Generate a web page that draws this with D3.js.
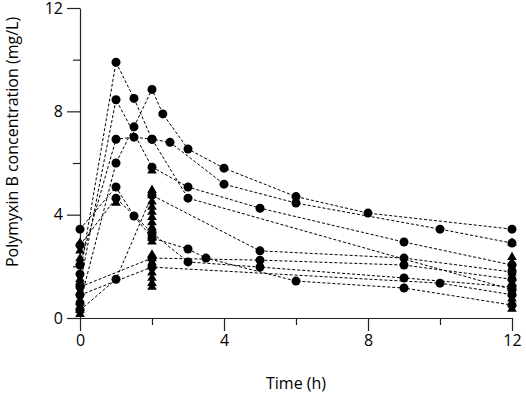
<!DOCTYPE html>
<html>
<head>
<meta charset="utf-8">
<script src="https://cdn.jsdelivr.net/npm/d3@7"></script>
<style>
  body { margin: 0; background: #fff; }
  text { font-family: "Open Sans", sans-serif; }
</style>
</head>
<body>
<div id="chart"></div>
<script>
// patients with full profiles (dashed lines + circles), [time h, conc mg/L]
const subject1 = [[0, 1.7], [1, 9.9], [1.5, 8.5], [2, 6.92], [3, 4.64], [12, 1.1]]
const subject2 = [[0, 0.58], [1, 6.0], [1.5, 7.4], [2, 8.85], [2.3, 7.9], [3, 6.54], [4, 5.8], [6, 4.7], [8, 4.06], [12, 3.44]]
const subject3 = [[0, 1.28], [1, 8.45], [2, 5.84], [3, 5.07], [5, 4.25], [9, 2.94], [12, 2.05]]
const subject4 = [[0, 2.05], [1, 6.92], [1.5, 7.0], [2, 6.92], [2.5, 6.8], [4, 5.18], [6, 4.45], [10, 3.44], [12, 2.9]]
const subject5 = [[0, 3.44], [1, 5.07], [1.5, 3.95], [2, 3.1], [3, 2.67], [3.5, 2.32], [6, 1.43], [9, 1.16], [12, 0.5]]
const subject6 = [[0, 2.82], [1, 4.64], [2, 3.3], [3, 2.17], [5, 1.97], [9, 1.55], [12, 1.2]]
const subject7 = [[0, 0.3], [1, 1.5], [2, 4.75], [5, 2.6], [9, 2.32], [12, 1.78]]
const subject8 = [[0, 1.2], [2, 2.32], [5, 2.24], [9, 2.05], [12, 1.5]]
const subject9 = [[0, 0.89], [2, 1.97], [10, 1.35], [12, 0.9]]
const subjects = [subject1, subject2, subject3, subject4, subject5, subject6, subject7, subject8, subject9]

// sparse samples (triangles, no lines)
const sparseTimes = [0, 0, 0, 0, 0, 0, 0, 0, 0, 0,
  1,
  2, 2, 2, 2, 2, 2, 2, 2, 2, 2, 2, 2, 2, 2, 2, 2, 2, 2, 2, 2,
  12, 12, 12, 12, 12, 12, 12, 12, 12, 12, 12, 12]
const sparseConc = [2.9, 2.6, 2.3, 2.15, 1.5, 1.0, 0.6, 0.45, 0.3, 0.15,
  4.45,
  5.7, 4.95, 4.75, 4.5, 4.3, 4.1, 3.9, 3.7, 3.5, 3.3, 3.1, 2.95, 2.45, 2.3, 2.15, 2.0, 1.75, 1.55, 1.35, 1.2,
  2.9, 2.35, 2.15, 1.95, 1.75, 1.55, 1.35, 1.15, 0.95, 0.75, 0.55, 0.35]

const xMajor = [0, 4, 8, 12]
const xMinor = [2, 6, 10]
const yMajor = [0, 4, 8, 12]
const yMinor = [2, 6, 10]

const width = 526, height = 395

const svg = d3.select("#chart").append("svg")
  .attr("width", width)
  .attr("height", height)

const x = d3.scaleLinear().domain([0, 12]).range([80, 512])
const y = d3.scaleLinear().domain([0, 12]).range([318, 8])

// axes
const gx = svg.append("g").attr("transform", `translate(0,${y(0)})`)
gx.call(d3.axisBottom(x).tickValues(xMajor).tickSize(13).tickSizeOuter(0).tickPadding(4))
gx.append("g").call(d3.axisBottom(x).tickValues(xMinor).tickSize(7).tickFormat(""))
  .select(".domain").remove()

const gy = svg.append("g").attr("transform", `translate(${x(0)},0)`)
gy.call(d3.axisLeft(y).tickValues(yMajor).tickSize(13).tickSizeOuter(0).tickPadding(4))
gy.append("g").call(d3.axisLeft(y).tickValues(yMinor).tickSize(7).tickFormat(""))
  .select(".domain").remove()

svg.selectAll(".tick text").attr("font-size", 16).attr("font-family", "Open Sans, sans-serif")
svg.selectAll(".domain, .tick line").attr("stroke", "#222").attr("stroke-width", 1.2)

svg.append("text")
  .attr("x", x(6))
  .attr("y", 389)
  .attr("text-anchor", "middle")
  .attr("font-size", 16)
  .text("Time (h)")

svg.append("text")
  .attr("transform", "translate(18,142) rotate(-90)")
  .attr("text-anchor", "middle")
  .attr("font-size", 16)
  .text("Polymyxin B concentration (mg/L)")

// lines
const line = d3.line().x(d => x(d[0])).y(d => y(d[1]))
svg.append("g").selectAll("path")
  .data(subjects)
  .join("path")
  .attr("d", line)
  .attr("fill", "none")
  .attr("stroke", "#000")
  .attr("stroke-width", 1)
  .attr("stroke-dasharray", "3,2")

// triangles
const tri = d3.symbol().type(d3.symbolTriangle).size(40)
svg.append("g").selectAll("path")
  .data(sparseTimes.map((t, i) => [t, sparseConc[i]]))
  .join("path")
  .attr("d", tri)
  .attr("transform", d => `translate(${x(d[0])},${y(d[1])})`)
  .attr("fill", "#000")

// circles
svg.append("g").selectAll("circle")
  .data(subjects.flat())
  .join("circle")
  .attr("cx", d => x(d[0]))
  .attr("cy", d => y(d[1]))
  .attr("r", 4.5)
  .attr("fill", "#000")
</script>
</body>
</html>
